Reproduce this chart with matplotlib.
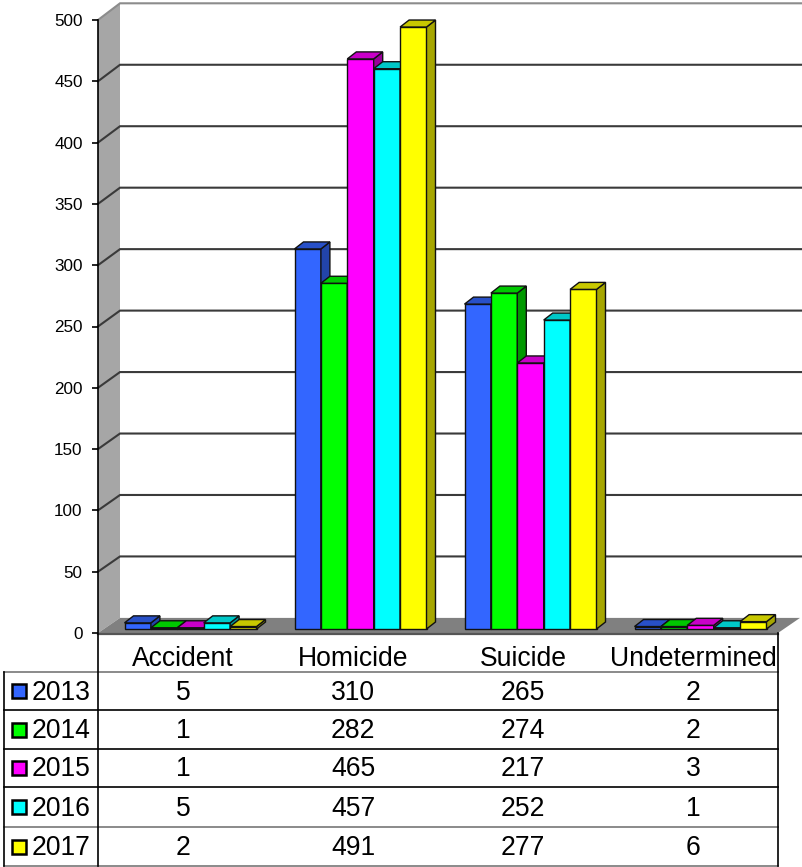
import matplotlib
matplotlib.use('Agg')
import matplotlib.pyplot as plt
from matplotlib.patches import Polygon, Rectangle
from matplotlib.transforms import Affine2D

plt.rcParams['font.family'] = ['Liberation Sans', 'DejaVu Sans']

categories = ['Accident', 'Homicide', 'Suicide', 'Undetermined']
years = ['2013', '2014', '2015', '2016', '2017']
values_2013 = [5, 310, 265, 2]
values_2014 = [1, 282, 274, 2]
values_2015 = [1, 465, 217, 3]
values_2016 = [5, 457, 252, 1]
values_2017 = [2, 491, 277, 6]
series = [values_2013, values_2014, values_2015, values_2016, values_2017]
yticks = [0, 50, 100, 150, 200, 250, 300, 350, 400, 450, 500]

front_col = ['#3366ff', '#00ff00', '#ff00ff', '#00ffff', '#ffff00']
side_col = ['#2244aa', '#009900', '#990099', '#009999', '#a6a600']
top_col = ['#2850c8', '#00c800', '#c800c8', '#00c8c8', '#c8c800']

W, H = 802, 867
fig = plt.figure(figsize=(W/100, H/100), dpi=100)

# background layer in pixel coordinates, walls and table live here
bg = fig.add_axes([0, 0, 1, 1])
bg.set_xlim(0, W)
bg.set_ylim(H, 0)
bg.axis('off')

x0, x1, y0, y500 = 98, 778, 633, 20
wall_dx = 22
back0, back500 = 617.9, 3.3
bg.add_patch(Polygon([(x0, y0), (x0+wall_dx, back0), (x0+wall_dx, back500), (x0, y500)],
                     fc='#a6a6a6', ec='none'))
bg.add_patch(Polygon([(x0, y0), (x1, y0), (x1+wall_dx, back0), (x0+wall_dx, back0)],
                     fc='#808080', ec='none'))
bg.plot([x0, x1], [y0+0.5, y0+0.5], color='#555555', lw=1.6)
for t in yticks:
    if t == 0:
        continue
    yp = y0 - t*(y0-y500)/500
    yb = back0 - t*(back0-back500)/500
    col = '#8c8c8c' if t == 500 else '#3a3a3a'
    bg.plot([x0, x0+wall_dx, W], [yp, yb, yb], color=col, lw=1.5, solid_joinstyle='miter')

# table
rows_y = [672, 710, 749, 787, 827, 866]
for i, yp in enumerate(rows_y):
    bg.plot([3.5, x1], [yp, yp], color='#777777' if i in (0, 4, 5) else 'black', lw=1.2)
bg.plot([3.5, 3.5], [rows_y[0], rows_y[-1]], color='black', lw=1.2)
bg.plot([x0, x0], [y500, rows_y[-1]], color='black', lw=1.2)
bg.plot([x1, x1], [y0, rows_y[-1]], color='black', lw=1.2)

colw = (x1-x0)/len(categories)
for j, c in enumerate(categories):
    bg.text(x0+colw*(j+0.5), 658.5, c, ha='center', va='center', fontsize=19.1)
for i, yr in enumerate(years):
    ym = (rows_y[i]+rows_y[i+1])/2
    bg.add_patch(Rectangle((11.5, ym-7), 14, 14, fc=front_col[i], ec='black', lw=1.8))
    bg.text(31.5, ym+1.5, yr, ha='left', va='center', fontsize=19.1)
    for j in range(len(categories)):
        bg.text(x0+colw*(j+0.5), ym+1.5, str(series[i][j]), ha='center', va='center', fontsize=19.1)

# chart layer, front plane of the plot box
ax = fig.add_axes([x0/W, 1-y0/H, (x1-x0)/W, (y0-y500)/H])
ax.patch.set_alpha(0)
ax.set_xlim(-0.5, 3.5)
ax.set_ylim(0, 500)
ax.set_xticks([])
ax.set_yticks(yticks)
ax.tick_params(axis='y', length=4.5, width=1.2, labelsize=12.3, pad=6.5)
for s in ['top', 'right', 'bottom', 'left']:
    ax.spines[s].set_visible(False)

bw = 26.4/colw
depth_x = 9/colw
depth_y = 7/((y0-y500)/500)
tr = ax.transData + Affine2D().translate(7.5, 4)

for j in range(len(categories)):
    for i in range(len(years)):
        v = series[i][j]
        left = j + (i-2.5)*bw
        right = left + bw
        z = 3 + j*10 + i
        ax.bar(left, v, width=bw, align='edge', color=front_col[i], edgecolor='#111111', lw=1,
               transform=tr, clip_on=False, zorder=z)
        ax.add_patch(Polygon([(right, 0), (right+depth_x, depth_y), (right+depth_x, v+depth_y), (right, v)],
                             fc=side_col[i], ec='#111111', lw=1, transform=tr, clip_on=False, zorder=z))
        ax.add_patch(Polygon([(left, v), (right, v), (right+depth_x, v+depth_y), (left+depth_x, v+depth_y)],
                             fc=top_col[i], ec='#111111', lw=1, transform=tr, clip_on=False, zorder=z))

fig.savefig('out.png', dpi=100)
